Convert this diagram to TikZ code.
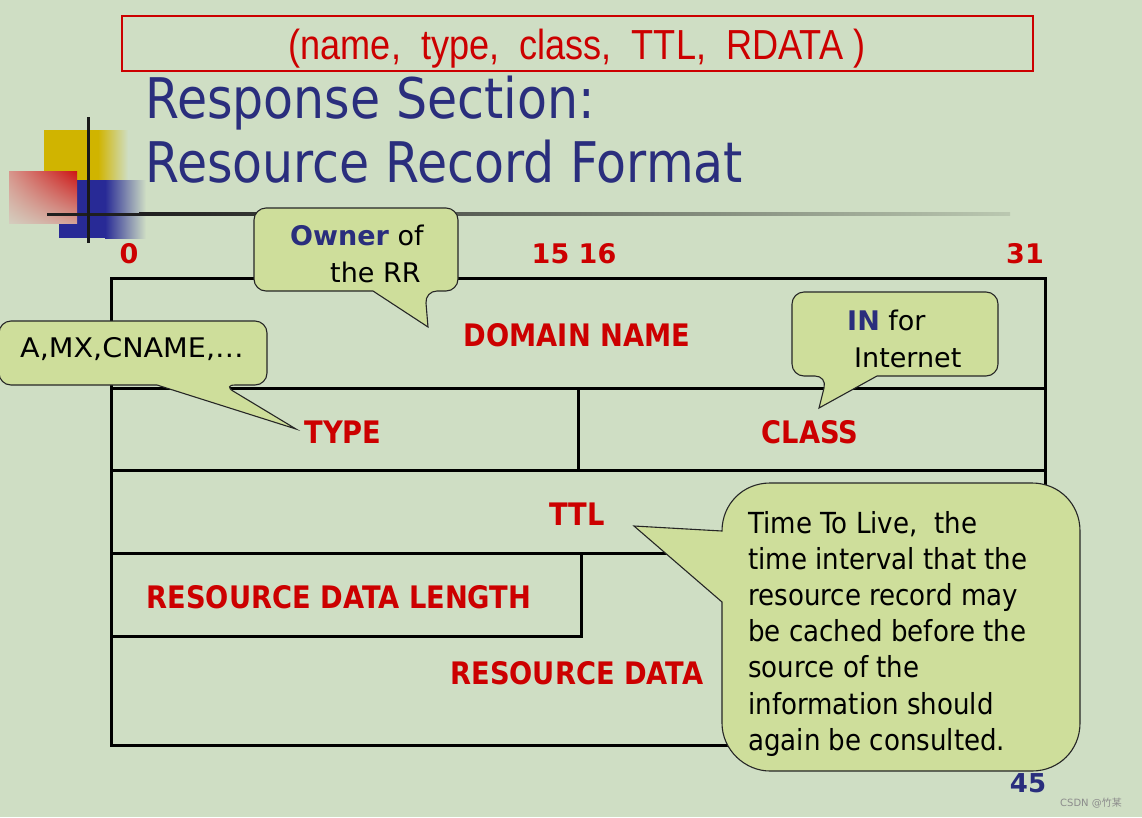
\documentclass[tikz,border=0pt]{standalone}
\usepackage{fontspec}
\usetikzlibrary{shadings}
\setmainfont{DejaVu Sans}
\newfontfamily\titlefont[FakeStretch=0.875]{DejaVu Sans}
\newfontfamily\labelfont[FakeStretch=0.88]{DejaVu Sans}
\newfontfamily\notefont[FakeStretch=0.9]{DejaVu Sans}
\newfontfamily\narrowfont[FakeStretch=0.86]{Liberation Sans}
\newfontfamily\cjkfont{Noto Sans CJK SC}
\definecolor{bgc}{RGB}{207,222,196}
\definecolor{calloutfill}{RGB}{206,222,155}
\definecolor{titleblue}{RGB}{42,46,125}
\definecolor{fieldred}{RGB}{204,0,0}
\definecolor{decoyellow}{RGB}{208,180,0}
\definecolor{decoblue}{RGB}{40,42,150}
\definecolor{redUR}{RGB}{205,20,20}
\definecolor{redUL}{RGB}{215,150,140}
\definecolor{redLR}{RGB}{212,160,150}
\definecolor{redLL}{RGB}{212,205,190}
\begin{document}
\begin{tikzpicture}[x=1pt,y=-1pt,
  tbl/.style={line width=3pt, line cap=rect},
  callout/.style={draw=black!85, line width=1.1pt, fill=calloutfill},
  fieldlabel/.style={text=fieldred, font=\labelfont\bfseries\fontsize{31}{36}\selectfont, inner sep=0pt, anchor=base},
  bitnum/.style={text=fieldred, font=\bfseries\fontsize{27}{30}\selectfont, inner sep=0pt, anchor=base},
  notetext/.style={font=\fontsize{27}{32}\selectfont, inner sep=0pt, anchor=base west},
  ttltext/.style={font=\notefont\fontsize{29}{36}\selectfont, inner sep=0pt, anchor=base west},
  titletext/.style={text=titleblue, font=\titlefont\fontsize{56}{64}\selectfont, inner sep=0pt, anchor=base west}]
\fill[bgc] (0,0) rectangle (1142,817);
\useasboundingbox (0,0) rectangle (1142,817);

% top red box
\draw[fieldred, line width=2pt] (122,16) rectangle (1033,71);
\node[text=fieldred, font=\narrowfont\fontsize{42}{44}\selectfont, inner sep=0pt, anchor=base] (tuple) at (577,59) {(name,~ type,~ class,~ TTL,~ RDATA )};

% decoration
\fill[decoyellow] (44,130) rectangle (99,181);
\shade[left color=decoyellow, right color=bgc] (98,130) rectangle (128,181);
\fill[decoblue] (59,180) rectangle (106,238);
\shade[left color=decoblue, right color=bgc] (105,180) rectangle (146,238);
\shade[upper right=redUR, upper left=redUL, lower right=redLR, lower left=redLL] (9,171) rectangle (77,223);
\fill[black!88] (47,212.5) rectangle (140,215.5);
\shade[left color=black!88, right color=bgc!90!black] (139,212.5) rectangle (1010,215.5);
\draw[black!90, line width=3pt] (88,117) -- (88,243);

% title
\node[titletext] (title1) at (145,118) {Response Section:};
\node[titletext] (title2) at (145,182) {Resource Record Format};

% bit numbers
\node[bitnum] (b0) at (129,263) {0};
\node[bitnum] (b15) at (574,263) {15 16};
\node[bitnum] (b31) at (1025,263) {31};

% record table
\draw[tbl] (111,278) -- (1045,278) -- (1045,745) -- (111,745) -- cycle;
\draw[tbl] (111,388) -- (1045,388);
\draw[tbl] (578,388) -- (578,470);
\draw[tbl] (111,470) -- (1045,470);
\draw[tbl] (111,553) -- (1045,553);
\draw[tbl] (581,553) -- (581,636) -- (111,636);

\node[fieldlabel] (dn) at (577,346) {DOMAIN NAME};
\node[fieldlabel] (type) at (343,443) {TYPE};
\node[fieldlabel] (class) at (810,443) {CLASS};
\node[fieldlabel] (ttl) at (577,525) {TTL};
\node[fieldlabel] (rdl) at (339,608) {RESOURCE DATA LENGTH};
\node[fieldlabel] (rd) at (577,684) {RESOURCE DATA};

% callouts
\draw[callout, rounded corners=12] (300,291) -- (254,291) -- (254,208) -- (458,208) -- (458,291) -- (425,291) [sharp corners] -- (428,327) -- (373,291) -- cycle;
\node[notetext] (own1) at (290,245) {\textcolor{titleblue}{\bfseries Owner} of};
\node[notetext] (own2) at (330,282) {the RR};

\draw[callout, rounded corners=12] (100,385) -- (-1,385) -- (-1,321) -- (267,321) -- (267,385) -- (223,385) [sharp corners] -- (296,429) -- (157,385) -- cycle;
\node[notetext, font=\fontsize{27}{32}\selectfont\addfontfeature{FakeStretch=1.06}] (types) at (20,357) {A,MX,CNAME,\dots};

\draw[callout, rounded corners=12] (900,376) -- (998,376) -- (998,292) -- (792,292) -- (792,376) -- (827,376) [sharp corners] -- (819,408) -- (877,376) -- cycle;
\node[notetext] (in1) at (847,330) {\textcolor{titleblue}{\bfseries IN} for};
\node[notetext] (in2) at (854,367) {Internet};

\draw[callout] (722,602) -- (722,723) .. controls (722,750) and (745,771) .. (770,771) -- (1032,771) .. controls (1059,771) and (1080,750) .. (1080,723) -- (1080,531) .. controls (1080,504) and (1059,483) .. (1032,483) -- (770,483) .. controls (743,483) and (722,504) .. (722,531) -- (634,526) -- cycle;
\foreach \t [count=\i] in {{Time To Live,~ the}, {time interval that the}, {resource record may}, {be cached before the}, {source of the}, {information should}, {again be consulted.}}
  \node[ttltext] (ttlnote-\i) at (748,{533+36.2*(\i-1)}) {\t};

% page number and watermark
\node[text=titleblue, font=\bfseries\fontsize{26}{30}\selectfont, inner sep=0pt, anchor=base] (page) at (1028,792) {45};
\node[text=black!45, font=\fontsize{10}{12}\selectfont, inner sep=0pt, anchor=base west] (wm) at (1060,806) {CSDN @{\cjkfont 竹某}};
\end{tikzpicture}
\end{document}
